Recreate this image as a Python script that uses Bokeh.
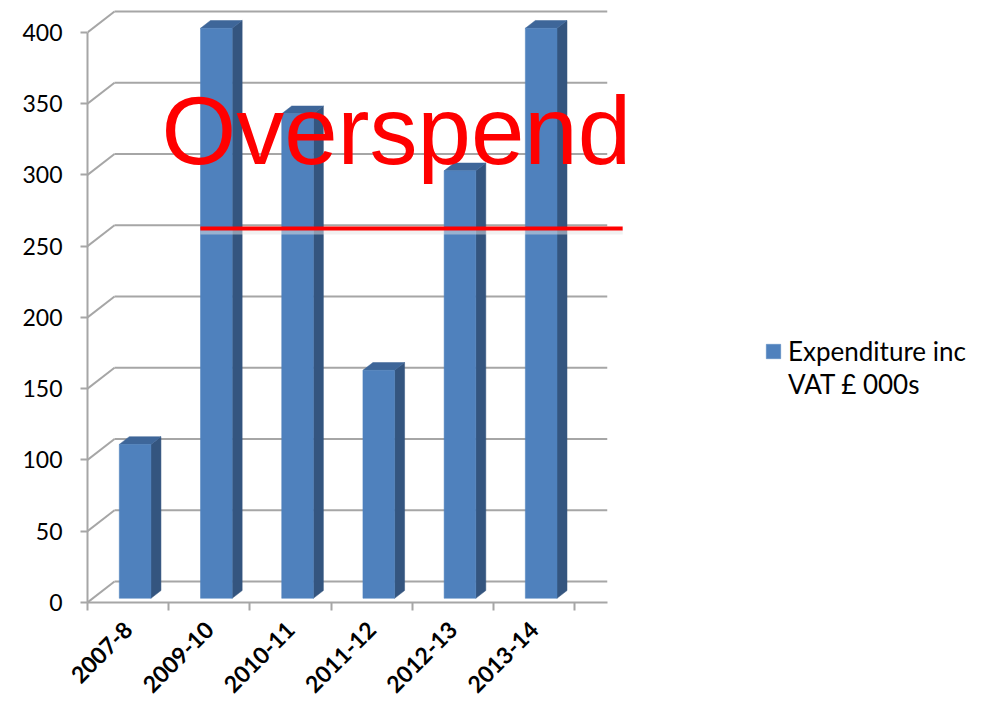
import numpy as np
from bokeh.plotting import figure
from bokeh.models import Range1d, FixedTicker, Legend, LegendItem, Label
from bokeh.embed import file_html
from bokeh.resources import INLINE

# ---- data ----
categories = ["2007-8", "2009-10", "2010-11", "2011-12", "2012-13", "2013-14"]
expenditure = [108, 400, 340, 160, 300, 400]
y_ticks = [0, 50, 100, 150, 200, 250, 300, 350, 400]
series_label = ["Expenditure inc", "VAT £ 000s"]
annotation_text = "Overspend"
threshold = 262.5

# ---- 3D look parameters (category units / value units) ----
DX, DY = 0.3325, 14.7      # full depth offset of back wall
F0 = 0.2                   # depth fraction where bar front sits
FD = 0.37                  # bar depth fraction
BW = 0.39                  # bar width (category units)
XEND = 6.4                 # right end of the floor / walls

GRID = "#a6a6a6"
FRONT = "#4f81bd"
SIDE = "#34557f"
TOP = "#3e6699"

W, H = 978, 703
p = figure(width=W, height=H, output_backend="svg", toolbar_location=None,
           x_range=Range1d(0, 10.91), y_range=Range1d(0, 416.8),
           min_border_left=87, min_border_right=5, min_border_top=8,
           min_border_bottom=101)
p.title.visible = False
p.outline_line_color = None
p.xgrid.visible = False
p.ygrid.visible = False

# back-wall gridlines with perspective connectors
gx0, gy0, gx1, gy1 = [], [], [], []
for t in y_ticks:
    gx0 += [0, DX]
    gy0 += [t, t + DY]
    gx1 += [DX, XEND]
    gy1 += [t + DY, t + DY]
p.segment(gx0, gy0, gx1, gy1, line_color=GRID, line_width=2)

# bars as 3D prisms
front_xs, front_ys, side_xs, side_ys, top_xs, top_ys = [], [], [], [], [], []
for i, v in enumerate(expenditure):
    c = i + 0.5 + 0.02
    xl = c - BW / 2 + F0 * DX
    xr = c + BW / 2 + F0 * DX
    yb = F0 * DY
    yt = v + F0 * DY
    ddx, ddy = FD * DX, FD * DY
    front_xs.append([xl, xr, xr, xl])
    front_ys.append([yb, yb, yt, yt])
    side_xs.append([xr, xr + ddx, xr + ddx, xr])
    side_ys.append([yb, yb + ddy, yt + ddy, yt])
    top_xs.append([xl, xr, xr + ddx, xl + ddx])
    top_ys.append([yt, yt, yt + ddy, yt + ddy])

p.patches(side_xs, side_ys, fill_color=SIDE, line_color=SIDE, line_width=0.5)
p.patches(top_xs, top_ys, fill_color=TOP, line_color=TOP, line_width=0.5)
front = p.patches(front_xs, front_ys, fill_color=FRONT, line_color=FRONT, line_width=0.5)
# transparent twin, used only for the second legend line
twin = p.patches(front_xs, front_ys, fill_alpha=0, line_alpha=0)

# axes
xa = p.xaxis[0]
xa.ticker = FixedTicker(ticks=[i + 0.5 for i in range(len(categories))],
                        minor_ticks=list(range(len(categories) + 1)))
xa.major_label_overrides = {i + 0.5: c for i, c in enumerate(categories)}
xa.bounds = (0, XEND)
xa.axis_line_color = GRID
xa.axis_line_width = 2
xa.major_tick_line_color = None
xa.minor_tick_line_color = GRID
xa.minor_tick_line_width = 2
xa.minor_tick_out = 8
xa.minor_tick_in = 0
xa.major_label_orientation = np.pi / 4
xa.major_label_text_font = "Lato"
xa.major_label_text_font_style = "bold"
xa.major_label_text_font_size = "23px"
xa.major_label_text_color = "black"
xa.major_label_standoff = 15

ya = p.yaxis[0]
ya.ticker = FixedTicker(ticks=y_ticks, minor_ticks=[])
ya.bounds = (0, 400)
ya.axis_line_color = GRID
ya.axis_line_width = 2
ya.major_tick_line_color = GRID
ya.major_tick_line_width = 2
ya.major_tick_out = 7
ya.major_tick_in = 0
ya.minor_tick_line_color = None
ya.major_label_text_font = "Lato"
ya.major_label_text_font_size = "23px"
ya.major_label_text_color = "black"
ya.major_label_standoff = 18

# annotation: overspend line and text
p.line([1.39, 6.59], [threshold - 2.6, threshold - 2.6], line_color="#e4e4e4",
       line_width=5, line_alpha=0.5)
p.line([1.39, 6.59], [threshold, threshold], line_color="red", line_width=4)
p.add_layout(Label(x=0.911, y=331, text=annotation_text, text_font="Liberation Sans",
                   text_font_size="96px", text_color="red", text_baseline="alphabetic"))

legend = Legend(items=[LegendItem(label=series_label[0], renderers=[front]),
                       LegendItem(label=series_label[1], renderers=[twin])],
                location=(677, 202), padding=0, margin=0, spacing=0,
                border_line_color=None, background_fill_alpha=0,
                glyph_width=18, glyph_height=18, label_standoff=6, label_height=33,
                label_text_font="Lato", label_text_font_size="26px",
                label_text_color="black")
p.add_layout(legend)

open("out.html", "w").write(file_html(p, INLINE))
